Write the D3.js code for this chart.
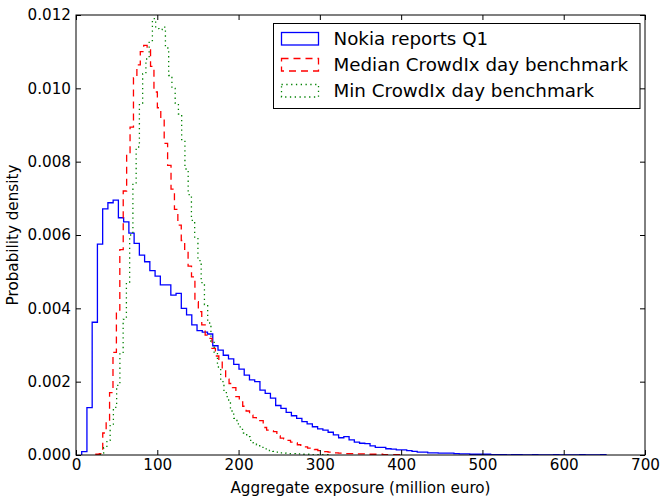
<!DOCTYPE html>
<html>
<head>
<meta charset="utf-8">
<script src="https://cdn.jsdelivr.net/npm/d3@7"></script>
<style>
	body { margin: 0; background: #fff; }
	svg text { font-family: "DejaVu Sans", sans-serif; }
</style>
</head>
<body>
<svg id="main-svg" width="662" height="497"></svg>
<script>
// bins: start + width in data units, one density value per bin
var nokiaStart = 7, nokiaWidth = 6.45;
var nokiaValues = [
	0.00009, 0.00129, 0.00362, 0.00575, 0.00671, 0.00688, 0.00695, 0.00647, 0.00636, 0.00605,
	0.00577, 0.00545, 0.00527, 0.00503, 0.00488, 0.00464, 0.00464, 0.00436, 0.00441, 0.00400,
	0.00382, 0.00355, 0.00339, 0.00335, 0.00330, 0.00298, 0.00286, 0.00272, 0.00262, 0.00247,
	0.00234, 0.00218, 0.00205, 0.00200, 0.00177, 0.00168, 0.00155, 0.00135, 0.00127, 0.00116,
	0.00107, 0.00100, 0.00091, 0.00085, 0.00077, 0.00071, 0.00068, 0.00062, 0.00055, 0.00047,
	0.00050, 0.00041, 0.00035, 0.00032, 0.00031, 0.00025, 0.00021, 0.00021, 0.00017, 0.00016,
	0.00014, 0.00014, 0.00012, 0.00010, 0.00008, 0.00008, 0.00006, 0.00006, 0.00005, 0.00005,
	0.00005, 0.00004, 0.00003, 0.00003, 0.00002, 0.00002, 0.00002, 0.00002, 0.00001, 0.00001,
	0.00001, 0.00000, 0.00001, 0.00001, 0.00000, 0.00000, 0.00001, 0.00000, 0.00000, 0.00000,
	0.00001, 0.00000, 0.00000, 0.00000, 0.00000, 0.00001, 0.00000, 0.00000, 0.00000, 0.00001
];

var medianStart = 24.5, medianWidth = 4.2;
var medianValues = [
	0.00002, 0.00004, 0.00060, 0.00093, 0.00170, 0.00280, 0.00395, 0.00560, 0.00720, 0.00820,
	0.00894, 0.01029, 0.01064, 0.01100, 0.01117, 0.01105, 0.01060, 0.00990, 0.00947, 0.00917,
	0.00850, 0.00790, 0.00725, 0.00670, 0.00627, 0.00585, 0.00555, 0.00515, 0.00486, 0.00418,
	0.00391, 0.00355, 0.00327, 0.00318, 0.00291, 0.00270, 0.00258, 0.00235, 0.00207, 0.00195,
	0.00184, 0.00159, 0.00145, 0.00133, 0.00120, 0.00109, 0.00102, 0.00096, 0.00094, 0.00075,
	0.00068, 0.00066, 0.00064, 0.00052, 0.00046, 0.00044, 0.00040, 0.00035, 0.00033, 0.00028,
	0.00023, 0.00022, 0.00019, 0.00016, 0.00015, 0.00012, 0.00011, 0.00009, 0.00008, 0.00007,
	0.00006, 0.00005, 0.00005, 0.00004, 0.00004, 0.00004, 0.00003, 0.00003, 0.00003, 0.00003,
	0.00002, 0.00002, 0.00002, 0.00002, 0.00001, 0.00001, 0.00001, 0.00001, 0.00001, 0.00001
];

var minStart = 30, minWidth = 4.0;
var minValues = [
	0.00005, 0.00020, 0.00040, 0.00080, 0.00130, 0.00190, 0.00280, 0.00370, 0.00470, 0.00600,
	0.00740, 0.00840, 0.00960, 0.01040, 0.01080, 0.01130, 0.01190, 0.01163, 0.01160, 0.01167,
	0.01110, 0.01035, 0.01000, 0.00960, 0.00930, 0.00860, 0.00780, 0.00710, 0.00640, 0.00590,
	0.00530, 0.00470, 0.00410, 0.00360, 0.00310, 0.00280, 0.00240, 0.00200, 0.00170, 0.00150,
	0.00120, 0.00100, 0.00085, 0.00070, 0.00060, 0.00050, 0.00040, 0.00033, 0.00028, 0.00023,
	0.00019, 0.00015, 0.00012, 0.00010, 0.00008, 0.00006, 0.00006, 0.00005, 0.00004, 0.00004,
	0.00003, 0.00003, 0.00002, 0.00002, 0.00002, 0.00001, 0.00001, 0.00001, 0.00001, 0.00001
];

var xTicks = [0, 100, 200, 300, 400, 500, 600, 700];
var yTicks = [0, 0.002, 0.004, 0.006, 0.008, 0.010, 0.012];
var legendLabels = ['Nokia reports Q1', 'Median CrowdIx day benchmark', 'Min CrowdIx day benchmark'];

var series = [
	{ name: legendLabels[0], start: nokiaStart, width: nokiaWidth, values: nokiaValues, color: '#0000ff', dash: null },
	{ name: legendLabels[1], start: medianStart, width: medianWidth, values: medianValues, color: '#ff0000', dash: '7,5' },
	{ name: legendLabels[2], start: minStart, width: minWidth, values: minValues, color: '#008000', dash: '1.3,3.5' }
];

var margin = { left: 76, right: 17, top: 15, bottom: 42 };
var svg = d3.select('#main-svg');
var W = +svg.attr('width'), H = +svg.attr('height');

var x = d3.scaleLinear().domain([0, 700]).range([margin.left, W - margin.right]);
var y = d3.scaleLinear().domain([0, 0.012]).range([H - margin.bottom, margin.top]);

svg.append('rect').attr('width', W).attr('height', H).attr('fill', '#fff');

svg.append('clipPath').attr('id', 'plot-clip')
	.append('rect')
	.attr('x', x(0)).attr('y', y(0.012))
	.attr('width', x(700) - x(0)).attr('height', y(0) - y(0.012));

// step outline for one histogram
function stepPoints(s) {
	var pts = [[s.start, 0]];
	s.values.forEach(function(v, i) {
		pts.push([s.start + i * s.width, v]);
		pts.push([s.start + (i + 1) * s.width, v]);
	});
	pts.push([s.start + s.values.length * s.width, 0]);
	return pts;
}

var line = d3.line()
	.x(d => x(d[0]))
	.y(d => y(d[1]));

svg.append('g')
	.attr('clip-path', 'url(#plot-clip)')
	.selectAll('path')
	.data(series)
	.enter().append('path')
	.attr('d', d => line(stepPoints(d)))
	.attr('fill', 'none')
	.attr('stroke', d => d.color)
	.attr('stroke-width', 1.3)
	.attr('stroke-dasharray', d => d.dash);

// axes, ticks pointing inwards on all four sides
function styleAxis(g) {
	g.selectAll('text').attr('font-size', 15.2).attr('fill', '#000');
	g.selectAll('line').attr('stroke', '#000');
	g.select('.domain').remove();
}

svg.append('g')
	.attr('transform', 'translate(0,' + y(0) + ')')
	.call(d3.axisBottom(x).tickValues(xTicks).tickFormat(d3.format('d')).tickSize(-5).tickPadding(4))
	.call(styleAxis);

svg.append('g')
	.attr('transform', 'translate(0,' + y(0.012) + ')')
	.call(d3.axisTop(x).tickValues(xTicks).tickFormat('').tickSize(-5))
	.call(styleAxis);

svg.append('g')
	.attr('transform', 'translate(' + x(0) + ',0)')
	.call(d3.axisLeft(y).tickValues(yTicks).tickFormat(d3.format('.3f')).tickSize(-5).tickPadding(5))
	.call(styleAxis);

svg.append('g')
	.attr('transform', 'translate(' + x(700) + ',0)')
	.call(d3.axisRight(y).tickValues(yTicks).tickFormat('').tickSize(-5))
	.call(styleAxis);

svg.append('rect')
	.attr('x', x(0)).attr('y', y(0.012))
	.attr('width', x(700) - x(0)).attr('height', y(0) - y(0.012))
	.attr('fill', 'none')
	.attr('stroke', '#000')
	.attr('stroke-width', 1);

svg.append('text')
	.attr('x', (x(0) + x(700)) / 2)
	.attr('y', 493)
	.attr('text-anchor', 'middle')
	.attr('font-size', 15.2)
	.text('Aggregate exposure (million euro)');

svg.append('text')
	.attr('transform', 'translate(18,' + (y(0) + y(0.012)) / 2 + ') rotate(-90)')
	.attr('text-anchor', 'middle')
	.attr('font-size', 15.2)
	.text('Probability density');

// legend
var legend = svg.append('g').attr('transform', 'translate(273.5,23.5)');

legend.append('rect')
	.attr('width', 366.5).attr('height', 85)
	.attr('fill', '#fff')
	.attr('stroke', '#000')
	.attr('stroke-width', 1);

var items = legend.selectAll('.legend-item')
	.data(series)
	.enter().append('g')
	.classed('legend-item', true)
	.attr('transform', (d, i) => 'translate(0,' + (9 + i * 26) + ')');

items.append('rect')
	.attr('x', 8).attr('y', 0)
	.attr('width', 37).attr('height', 12.5)
	.attr('fill', 'none')
	.attr('stroke', d => d.color)
	.attr('stroke-width', 1.3)
	.attr('stroke-dasharray', d => d.dash);

items.append('text')
	.attr('x', 60)
	.attr('y', 12.8)
	.attr('font-size', 18.3)
	.text(d => d.name);
</script>
</body>
</html>
